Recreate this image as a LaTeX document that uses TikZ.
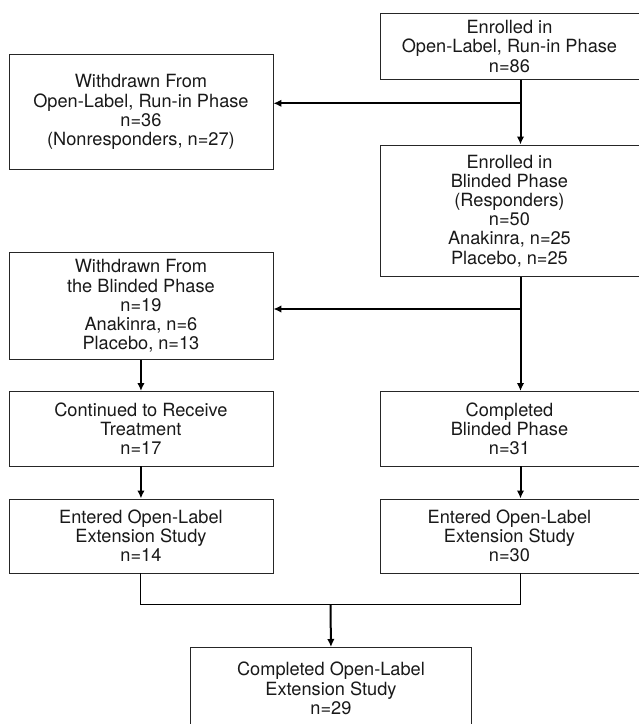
\documentclass[tikz,border=0pt]{standalone}
\usepackage{fontspec}
\setmainfont{TeX Gyre Heros}
\usetikzlibrary{arrows.meta,calc}
\begin{document}
\begin{tikzpicture}[x=1pt,y=-1pt,
  box/.style={draw=black!85, line width=0.9pt, anchor=north west, inner sep=0pt,
    align=center, font=\fontsize{18.2}{19.2}\selectfont, text=black!90},
  conn/.style={line width=2pt, -{Latex[length=8pt,width=7.5pt]}},
  plain/.style={line width=1pt}]
\useasboundingbox (0,0) rectangle (639,724);
\fill[white] (0,0) rectangle (639,724);
\begin{scope}
\clip (0,0) rectangle (639,724);
\node[box, minimum width=259pt, minimum height=66pt] (A) at (379.5,13)
  {Enrolled in\\Open-Label, Run-in Phase\\n=86};
\node[box, minimum width=264pt, minimum height=115pt] (B) at (8.5,54)
  {Withdrawn From\\Open-Label, Run-in Phase\\n=36\\(Nonresponders, n=27)};
\node[box, minimum width=259pt, minimum height=131.5pt] (C) at (379.5,144.5)
  {Enrolled in\\Blinded Phase\\(Responders)\\n=50\\Anakinra, n=25\\Placebo, n=25};
\node[box, minimum width=264pt, minimum height=107pt] (D) at (8.5,252)
  {Withdrawn From\\the Blinded Phase\\n=19\\Anakinra, n=6\\Placebo, n=13};
\node[box, minimum width=264pt, minimum height=74.5pt] (E) at (8.5,391)
  {Continued to Receive\\Treatment\\n=17};
\node[box, minimum width=259pt, minimum height=74.5pt] (F) at (379.5,391)
  {Completed\\Blinded Phase\\n=31};
\node[box, minimum width=264pt, minimum height=74pt] (G) at (8.5,498.5)
  {Entered Open-Label\\Extension Study\\n=14};
\node[box, minimum width=259pt, minimum height=74pt] (H) at (379.5,498.5)
  {Entered Open-Label\\Extension Study\\n=30};
\node[box, minimum width=281pt, minimum height=82pt] (I) at (190,647)
  {Completed Open-Label\\Extension Study\\n=29};
\end{scope}
\coordinate (j1) at (520.5,103.3);
\coordinate (j2) at (520.5,309);
\coordinate (m) at (330.5,604.3);
\draw[conn] (A.south -| j1) -- (C.north -| j1);
\draw[conn] (j1) -- (B.east |- j1);
\draw[conn] (C.south -| j2) -- (F.north -| j2);
\draw[conn] (j2) -- (D.east |- j2);
\draw[conn] (D.south) -- (E.north);
\draw[conn] (E.south) -- (G.north);
\draw[conn] (F.south -| j2) -- (H.north -| j2);
\draw[plain] (G.south) -- (G.south |- m) -- (m -| j2) -- (H.south -| j2);
\draw[conn] (m) -- (I.north);
\end{tikzpicture}
\end{document}
